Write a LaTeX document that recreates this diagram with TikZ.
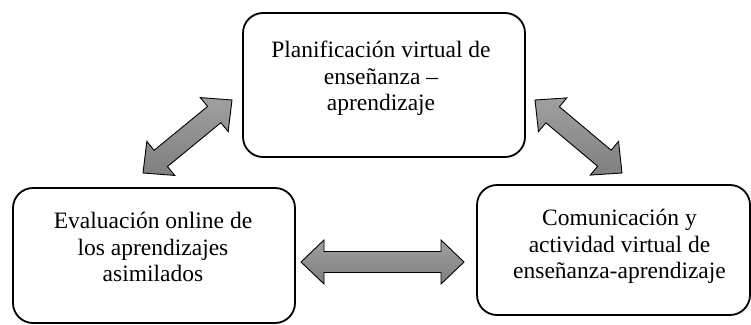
\documentclass[tikz,border=0pt]{standalone}
\usepackage{fontspec}
\setmainfont{Liberation Serif}
\usetikzlibrary{calc}
\tikzset{
  box/.style={draw=black, line width=1.8pt, rounded corners=20pt, inner sep=0pt},
  boxtext/.style={align=center, inner sep=0pt, anchor=north, font=\fontsize{23.5}{26.5}\selectfont},
  fatarrowstyle/.style={draw=black, line width=0.9pt, top color=gray!75, bottom color=gray!100},
}
\newcommand\fatarrow[2]{%
  \path[fatarrowstyle] (#1)
    -- ($(#1)!23pt!(#2)!22pt!90:(#2)$)
    -- ($(#1)!23pt!(#2)!10.5pt!90:(#2)$)
    -- ($(#2)!23pt!(#1)!10.5pt!-90:(#1)$)
    -- ($(#2)!23pt!(#1)!22pt!-90:(#1)$)
    -- (#2)
    -- ($(#2)!23pt!(#1)!22pt!90:(#1)$)
    -- ($(#2)!23pt!(#1)!10.5pt!90:(#1)$)
    -- ($(#1)!23pt!(#2)!10.5pt!-90:(#2)$)
    -- ($(#1)!23pt!(#2)!22pt!-90:(#2)$)
    -- cycle;
}
\begin{document}
\begin{tikzpicture}[x=1pt,y=-1pt]
  \useasboundingbox (0,0) rectangle (751,324);
  % boxes
  \node[box, minimum width=282pt, minimum height=144pt] (plan) at (384,85) {};
  \node[box, minimum width=282pt, minimum height=135pt] (eval) at (154,255.5) {};
  \node[box, minimum width=273pt, minimum height=130pt] (comu) at (613.5,250) {};
  % texts
  \node[boxtext] (plantxt) at (381,41) {Planificación virtual de\\enseñanza –\\aprendizaje};
  \node[boxtext] (evaltxt) at (153,212) {Evaluación online de\\los aprendizajes\\asimilados};
  \node[boxtext] (comutxt) at (619.5,209) {Comunicación y\\actividad virtual de\\enseñanza-aprendizaje};
  % arrow ends
  \coordinate (a1s) at (143,173);
  \coordinate (a1e) at (232,100);
  \coordinate (a2s) at (535,100);
  \coordinate (a2e) at (622,173);
  \coordinate (a3s) at (301,262);
  \coordinate (a3e) at (464,262);
  \fatarrow{a1s}{a1e}
  \fatarrow{a2s}{a2e}
  \fatarrow{a3s}{a3e}
\end{tikzpicture}
\end{document}
